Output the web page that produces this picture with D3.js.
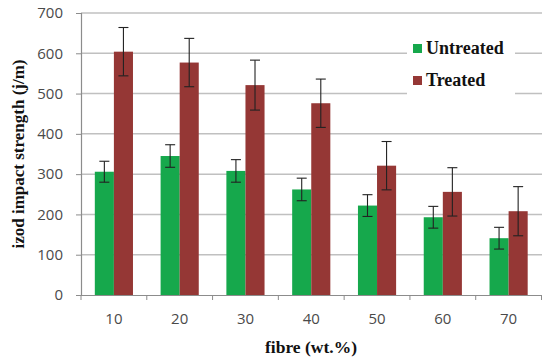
<!DOCTYPE html>
<html lang="en">
<head>
    <meta charset="UTF-8">
    <title>Izod impact strength</title>
    <style>
        body { margin: 0; background: #fff; }
        .tick-label { font-family: "Open Sans", "Noto Sans", sans-serif; font-size: 15px; fill: #4a4a4a; }
        .title { font-family: "Liberation Serif", "Times New Roman", serif; font-weight: bold; fill: #111; }
    </style>
</head>
<body>
    <div id="chart"></div>

    <script src="https://d3js.org/d3.v7.min.js"></script>
    <script>
        const width = 542;
        const height = 358;

        const fibre = ["10", "20", "30", "40", "50", "60", "70"];
        const untreated = [306, 345, 308, 262, 222, 193, 141];
        const untreatedErr = [26, 28, 28, 28, 27, 27, 27];
        const treated = [604, 577, 521, 476, 321, 256, 208];
        const treatedErr = [60, 60, 62, 60, 60, 60, 61];
        const yTicks = [0, 100, 200, 300, 400, 500, 600, 700];
        const seriesNames = ["Untreated", "Treated"];
        const colors = ["#16a84c", "#953735"];

        const margin = { left: 81, right: 0.5, top: 13, bottom: 63 };

        const svg = d3.select("#chart")
            .append("svg")
            .attr("width", width)
            .attr("height", height);

        const x0 = d3.scaleBand()
            .domain(fibre)
            .range([margin.left, width - margin.right])
            .paddingInner(0.42)
            .paddingOuter(0.21);

        const x1 = d3.scaleBand()
            .domain(seriesNames)
            .range([0, x0.bandwidth()]);

        const y = d3.scaleLinear()
            .domain([0, 700])
            .range([height - margin.bottom, margin.top]);

        // gridlines
        svg.append("g")
            .selectAll("line")
            .data(yTicks.slice(1))
            .enter().append("line")
            .attr("x1", margin.left)
            .attr("x2", width)
            .attr("y1", d => y(d))
            .attr("y2", d => y(d))
            .attr("stroke", "#c0c0c0")
            .attr("stroke-width", 1.5);

        // y axis
        const yAxis = svg.append("g")
            .attr("transform", `translate(${margin.left},0)`)
            .call(d3.axisLeft(y).tickValues(yTicks).tickSize(5).tickPadding(13));
        yAxis.select(".domain").attr("stroke", "#8c8c8c").attr("stroke-width", 1.2);
        yAxis.selectAll(".tick line").attr("stroke", "#8c8c8c");
        yAxis.selectAll(".tick text").attr("class", "tick-label").attr("font-size", null).attr("font-family", null);

        // x axis
        const xAxis = svg.append("g")
            .attr("transform", `translate(0,${y(0)})`)
            .call(d3.axisBottom(x0).tickSize(0).tickPadding(18));
        xAxis.select(".domain").attr("stroke", "#8c8c8c").attr("stroke-width", 1.2);
        xAxis.selectAll(".tick text").attr("class", "tick-label").attr("font-size", null).attr("font-family", null);

        // category separators on x axis
        const step = x0.step();
        svg.append("g")
            .selectAll("line")
            .data(d3.range(fibre.length + 1))
            .enter().append("line")
            .attr("x1", i => margin.left + i * step)
            .attr("x2", i => margin.left + i * step)
            .attr("y1", y(0))
            .attr("y2", y(0) + 5)
            .attr("stroke", "#8c8c8c");

        const rows = fibre.map((f, i) => ({
            fibre: f,
            values: [
                { name: "Untreated", value: untreated[i], err: untreatedErr[i], color: colors[0] },
                { name: "Treated", value: treated[i], err: treatedErr[i], color: colors[1] }
            ]
        }));

        const groups = svg.append("g")
            .selectAll("g")
            .data(rows)
            .enter().append("g")
            .attr("transform", d => `translate(${x0(d.fibre)},0)`);

        groups.selectAll("rect")
            .data(d => d.values)
            .enter().append("rect")
            .attr("x", d => x1(d.name))
            .attr("width", x1.bandwidth())
            .attr("y", d => y(d.value))
            .attr("height", d => y(0) - y(d.value))
            .attr("fill", d => d.color);

        // error bars
        const err = groups.selectAll(".err")
            .data(d => d.values)
            .enter().append("g")
            .attr("class", "err")
            .attr("stroke", "#222")
            .attr("stroke-width", 1.1);
        err.append("line")
            .attr("x1", d => x1(d.name) + x1.bandwidth() / 2)
            .attr("x2", d => x1(d.name) + x1.bandwidth() / 2)
            .attr("y1", d => y(d.value + d.err))
            .attr("y2", d => y(d.value - d.err));
        [1, -1].forEach(s => {
            err.append("line")
                .attr("x1", d => x1(d.name) + x1.bandwidth() / 2 - 5)
                .attr("x2", d => x1(d.name) + x1.bandwidth() / 2 + 5)
                .attr("y1", d => y(d.value + s * d.err))
                .attr("y2", d => y(d.value + s * d.err));
        });

        // axis titles
        svg.append("text")
            .attr("class", "title")
            .attr("font-size", 17)
            .attr("text-anchor", "middle")
            .attr("transform", `translate(24,${(y(0) + y(700)) / 2}) rotate(-90)`)
            .text("izod impact strength (j/m)");

        svg.append("text")
            .attr("class", "title")
            .attr("font-size", 17.5)
            .attr("text-anchor", "middle")
            .attr("x", 311)
            .attr("y", 353)
            .text("fibre (wt.%)");

        // legend
        const legend = svg.append("g").attr("transform", "translate(407,30)");
        legend.append("rect")
            .attr("width", 108)
            .attr("height", 70)
            .attr("fill", "#fff");
        seriesNames.forEach((name, i) => {
            const g = legend.append("g").attr("transform", `translate(6,${14 + i * 32})`);
            g.append("rect").attr("width", 9).attr("height", 9).attr("fill", colors[i]);
            g.append("text")
                .attr("class", "title")
                .attr("font-size", 18)
                .attr("x", 13)
                .attr("y", 10)
                .text(name);
        });
    </script>
</body>
</html>
